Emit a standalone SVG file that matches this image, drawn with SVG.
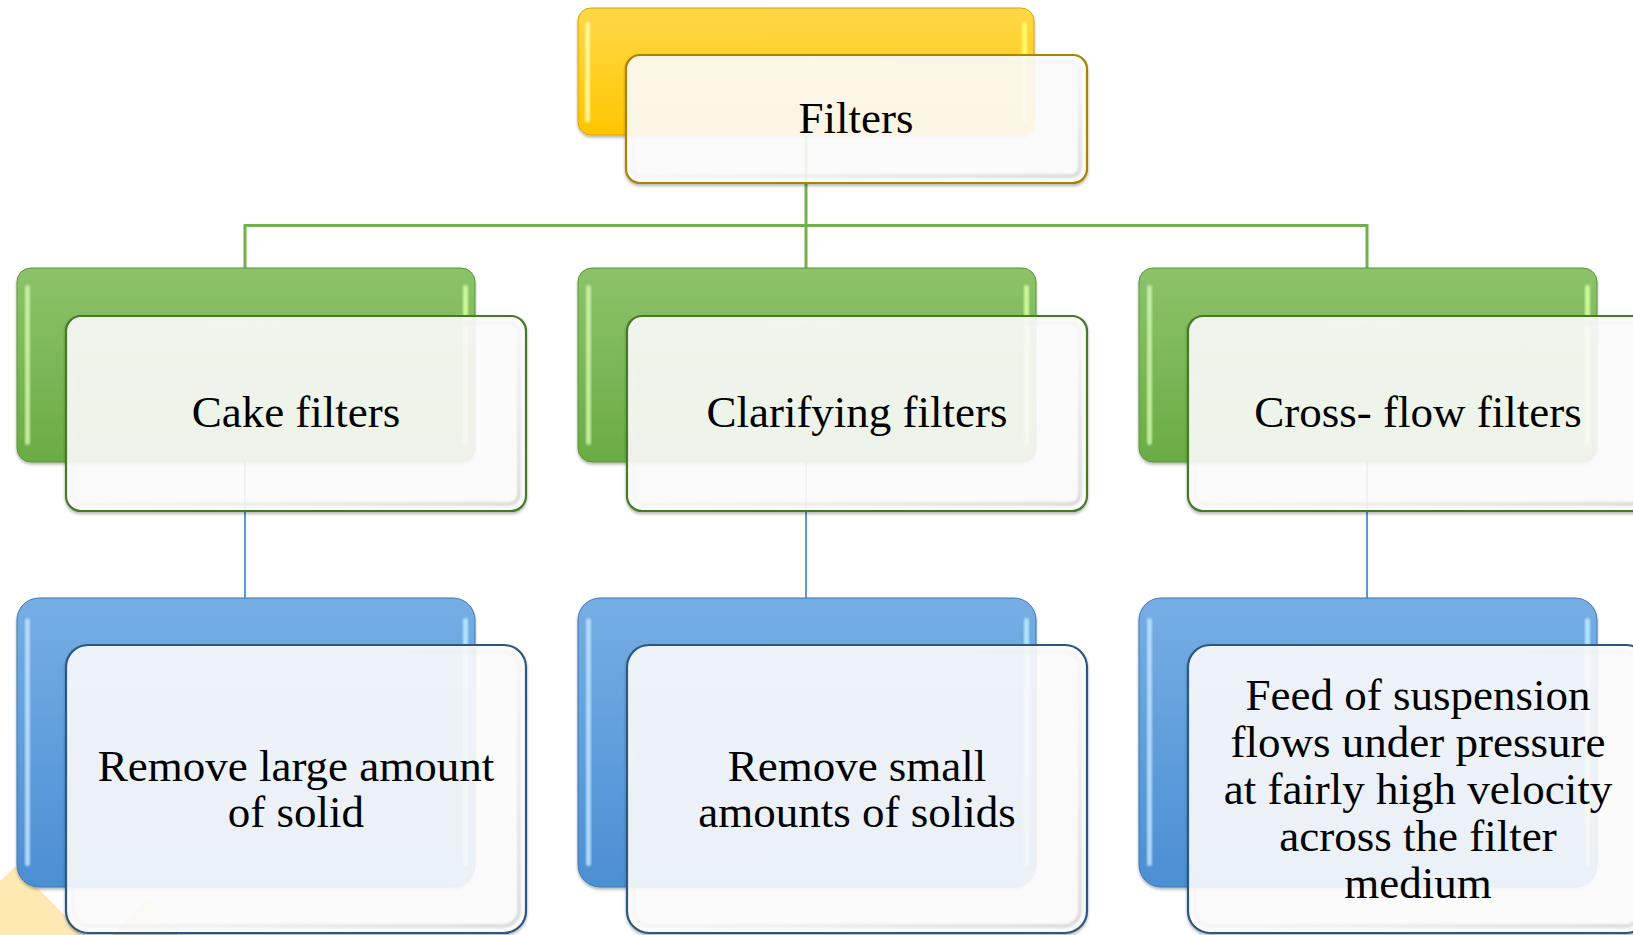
<svg xmlns="http://www.w3.org/2000/svg" width="1633" height="935" viewBox="0 0 1633 935">
  <defs>
    <style>
      .lbl { font-family: "Liberation Serif", "Times New Roman", serif; font-size: 45px; fill: #000; text-anchor: middle; }
      .front { fill: #FFFFFF; fill-opacity: 0.87; stroke-width: 2.2; }
      .bevel { fill: none; stroke: url(#bevelStroke); stroke-width: 3.5; filter: url(#soft); }
      .hl { filter: url(#soft); }
      .conG { fill: none; stroke: #72B04C; stroke-width: 3; }
      .conB { fill: none; stroke: #5B9BD5; stroke-width: 2; }
      .deco { fill: #FFE9B3; }
    </style>
    <filter id="soft" x="-10%" y="-10%" width="120%" height="120%">
      <feGaussianBlur stdDeviation="1.2"/>
    </filter>
    <filter id="shadow" x="-5%" y="-5%" width="110%" height="115%">
      <feGaussianBlur in="SourceAlpha" stdDeviation="1.5"/>
      <feOffset dy="1.5" result="b"/>
      <feComponentTransfer><feFuncA type="linear" slope="0.3"/></feComponentTransfer>
      <feMerge><feMergeNode/><feMergeNode in="SourceGraphic"/></feMerge>
    </filter>
    <linearGradient id="gY" x1="0" y1="0" x2="0" y2="1">
      <stop offset="0" stop-color="#FFD847"/>
      <stop offset="1" stop-color="#FFC600"/>
    </linearGradient>
    <linearGradient id="gG" x1="0" y1="0" x2="0" y2="1">
      <stop offset="0" stop-color="#8CC36A"/>
      <stop offset="1" stop-color="#6AAC43"/>
    </linearGradient>
    <linearGradient id="gB" x1="0" y1="0" x2="0" y2="1">
      <stop offset="0" stop-color="#76AEE4"/>
      <stop offset="1" stop-color="#4B8FD3"/>
    </linearGradient>
    <linearGradient id="bevelStroke" x1="0" y1="0" x2="1" y2="1">
      <stop offset="0" stop-color="#FFFFFF" stop-opacity="0"/>
      <stop offset="0.55" stop-color="#E8E8E8" stop-opacity="0.4"/>
      <stop offset="1" stop-color="#D2D2D2" stop-opacity="0.85"/>
    </linearGradient>
  </defs>

  <!-- pale background decoration, lower left -->
  <polygon class="deco" points="0,881 16,866 84,935 0,935"/>
  <polygon class="deco" points="145,900 112,935 178,935"/>

  <!-- connectors -->
  <g id="connectors">
    <path class="conG" d="M806,135 V268 M245,268 V225.5 H1367 V268"/>
    <path class="conB" d="M245,462 V598 M806,462 V598 M1367,462 V598"/>
  </g>

  <!-- root -->
  <g id="node-filters">
    <rect x="578" y="8" width="456" height="127" rx="13" fill="url(#gY)" stroke="#D9A400" stroke-width="1" filter="url(#shadow)"/>
    <rect class="hl" x="585" y="22" width="5" height="100" rx="2.5" fill="#FFF9A0" opacity="0.9"/>
    <rect class="hl" x="1022" y="22" width="5" height="100" rx="2.5" fill="#FFFF70" opacity="0.9"/>
    <rect class="front" x="626" y="55" width="461" height="128" rx="14" stroke="#A88400" filter="url(#shadow)"/>
    <rect class="bevel" x="633" y="62" width="447" height="114" rx="9"/>
    <text class="lbl" x="856" y="133">Filters</text>
  </g>

  <!-- second level -->
  <g id="node-cake">
    <rect x="17" y="268" width="458" height="194" rx="14" fill="url(#gG)" stroke="#5A9436" stroke-width="1" filter="url(#shadow)"/>
    <rect class="hl" x="25" y="285" width="5" height="160" rx="2.5" fill="#C9F2A6" opacity="0.9"/>
    <rect class="hl" x="463" y="285" width="5" height="160" rx="2.5" fill="#D2FF9E" opacity="0.9"/>
    <rect class="front" x="66" y="316" width="460" height="195" rx="15" stroke="#457A28" filter="url(#shadow)"/>
    <rect class="bevel" x="73" y="323" width="446" height="181" rx="10"/>
    <text class="lbl" x="296" y="427">Cake filters</text>
  </g>

  <g id="node-clarifying">
    <rect x="578" y="268" width="458" height="194" rx="14" fill="url(#gG)" stroke="#5A9436" stroke-width="1" filter="url(#shadow)"/>
    <rect class="hl" x="586" y="285" width="5" height="160" rx="2.5" fill="#C9F2A6" opacity="0.9"/>
    <rect class="hl" x="1024" y="285" width="5" height="160" rx="2.5" fill="#D2FF9E" opacity="0.9"/>
    <rect class="front" x="627" y="316" width="460" height="195" rx="15" stroke="#457A28" filter="url(#shadow)"/>
    <rect class="bevel" x="634" y="323" width="446" height="181" rx="10"/>
    <text class="lbl" x="857" y="427">Clarifying filters</text>
  </g>

  <g id="node-crossflow">
    <rect x="1139" y="268" width="458" height="194" rx="14" fill="url(#gG)" stroke="#5A9436" stroke-width="1" filter="url(#shadow)"/>
    <rect class="hl" x="1147" y="285" width="5" height="160" rx="2.5" fill="#C9F2A6" opacity="0.9"/>
    <rect class="hl" x="1585" y="285" width="5" height="160" rx="2.5" fill="#D2FF9E" opacity="0.9"/>
    <rect class="front" x="1188" y="316" width="460" height="195" rx="15" stroke="#457A28" filter="url(#shadow)"/>
    <rect class="bevel" x="1195" y="323" width="446" height="181" rx="10"/>
    <text class="lbl" x="1418" y="427">Cross- flow filters</text>
  </g>

  <!-- third level -->
  <g id="node-cake-desc">
    <rect x="17" y="598" width="458" height="289" rx="22" fill="url(#gB)" stroke="#3B77B5" stroke-width="1" filter="url(#shadow)"/>
    <rect class="hl" x="25" y="618" width="5" height="248" rx="2.5" fill="#B8E0FF" opacity="0.9"/>
    <rect class="hl" x="463" y="618" width="5" height="248" rx="2.5" fill="#B8ECFF" opacity="0.9"/>
    <rect class="front" x="66" y="645" width="460" height="288" rx="22" stroke="#2C5880" filter="url(#shadow)"/>
    <rect class="bevel" x="73" y="652" width="446" height="274" rx="16"/>
    <text class="lbl" x="296" y="781">Remove large amount</text>
    <text class="lbl" x="296" y="827">of solid</text>
  </g>

  <g id="node-clarifying-desc">
    <rect x="578" y="598" width="458" height="289" rx="22" fill="url(#gB)" stroke="#3B77B5" stroke-width="1" filter="url(#shadow)"/>
    <rect class="hl" x="586" y="618" width="5" height="248" rx="2.5" fill="#B8E0FF" opacity="0.9"/>
    <rect class="hl" x="1024" y="618" width="5" height="248" rx="2.5" fill="#B8ECFF" opacity="0.9"/>
    <rect class="front" x="627" y="645" width="460" height="288" rx="22" stroke="#2C5880" filter="url(#shadow)"/>
    <rect class="bevel" x="634" y="652" width="446" height="274" rx="16"/>
    <text class="lbl" x="857" y="781">Remove small</text>
    <text class="lbl" x="857" y="827">amounts of solids</text>
  </g>

  <g id="node-crossflow-desc">
    <rect x="1139" y="598" width="458" height="289" rx="22" fill="url(#gB)" stroke="#3B77B5" stroke-width="1" filter="url(#shadow)"/>
    <rect class="hl" x="1147" y="618" width="5" height="248" rx="2.5" fill="#B8E0FF" opacity="0.9"/>
    <rect class="hl" x="1585" y="618" width="5" height="248" rx="2.5" fill="#B8ECFF" opacity="0.9"/>
    <rect class="front" x="1188" y="645" width="460" height="288" rx="22" stroke="#2C5880" filter="url(#shadow)"/>
    <rect class="bevel" x="1195" y="652" width="446" height="274" rx="16"/>
    <text class="lbl" x="1418" y="710">Feed of suspension</text>
    <text class="lbl" x="1418" y="757">flows under pressure</text>
    <text class="lbl" x="1418" y="804">at fairly high velocity</text>
    <text class="lbl" x="1418" y="851">across the filter</text>
    <text class="lbl" x="1418" y="898">medium</text>
  </g>
</svg>
